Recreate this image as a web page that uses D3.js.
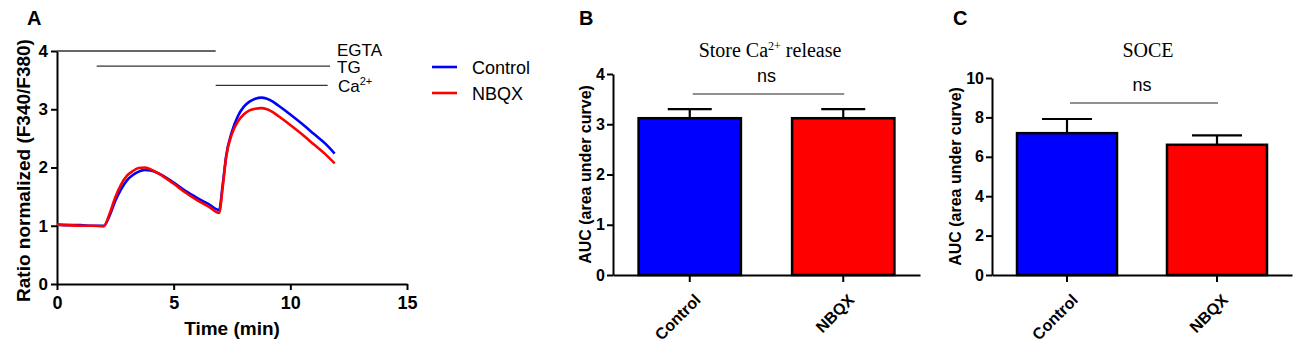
<!DOCTYPE html>
<html>
<head>
<meta charset="utf-8">
<script src="https://cdn.jsdelivr.net/npm/d3@7"></script>
<style>
  body { margin: 0; background: #fff; }
  svg { display: block; font-family: "Liberation Sans", Arial, sans-serif; }
  .axis path, .axis line { stroke: #000; stroke-width: 2px; }
  .axis text { font-weight: bold; fill: #000; }
</style>
</head>
<body>
<svg width="1300" height="349"></svg>
<script>
// ---- panel A: traces (time in min, ratio) ----
var time = [0, 0.5, 1, 1.5, 2, 2.25, 2.5, 2.75, 3, 3.25, 3.5, 3.75, 4, 4.5, 5, 5.5, 6, 6.5, 6.95,
            7.1, 7.25, 7.5, 7.75, 8, 8.25, 8.5, 8.75, 9, 9.25, 9.5, 10, 10.5, 11, 11.5, 11.9];
var controlTrace = [1.02, 1.01, 1.01, 1.0, 1.0, 1.17, 1.43, 1.63, 1.78, 1.87, 1.93, 1.96, 1.95, 1.87, 1.74, 1.6, 1.48, 1.37, 1.27,
            1.7, 2.2, 2.62, 2.88, 3.04, 3.13, 3.18, 3.2, 3.18, 3.13, 3.06, 2.91, 2.75, 2.58, 2.41, 2.24];
var nbqxTrace = [1.02, 1.01, 1.0, 1.0, 0.99, 1.2, 1.49, 1.71, 1.86, 1.94, 1.99, 2.0, 1.97, 1.86, 1.72, 1.57, 1.44, 1.33, 1.22,
            1.66, 2.18, 2.58, 2.79, 2.91, 2.98, 3.01, 3.02, 3.0, 2.95, 2.88, 2.73, 2.57, 2.4, 2.23, 2.07];
var xTicksA = [0, 5, 10, 15];
var yTicksA = [0, 1, 2, 3, 4];
// treatment bars: start, end, level
var treatNames = ["EGTA", "TG", "Ca"];
var treatStart = [0, 1.7, 6.8];
var treatEnd = [6.8, 11.7, 11.6];
var treatLevel = [4.0, 3.74, 3.41];

// ---- panels B and C: bars ----
var groups = ["Control", "NBQX"];
var storeMean = [3.12, 3.12];
var storeSem = [0.18, 0.18];
var soceMean = [7.2, 6.61];
var soceSem = [0.72, 0.48];
var yTicksB = [0, 1, 2, 3, 4];
var yTicksC = [0, 2, 4, 6, 8, 10];
var colors = ["#0000ff", "#ff0000"];

var svg = d3.select("svg");
var fmt = d3.format("d");

function panelLabel(txt, x) {
  svg.append("text").attr("x", x).attr("y", 25).text(txt)
    .style("font-size", "20px").style("font-weight", "bold");
}

// ================= panel A =================
var xA = d3.scaleLinear().domain([0, 15]).range([57, 407]);
var yA = d3.scaleLinear().domain([0, 4]).range([284, 51]);

panelLabel("A", 27);

svg.append("g").attr("class", "axis").attr("transform", "translate(0," + yA(0) + ")")
  .call(d3.axisBottom(xA).tickValues(xTicksA).tickFormat(fmt).tickSize(6).tickSizeOuter(0).tickPadding(6))
  .selectAll("text").style("font-size", "18px");
svg.append("g").attr("class", "axis").attr("transform", "translate(" + xA(0) + ",0)")
  .call(d3.axisLeft(yA).tickValues(yTicksA).tickFormat(fmt).tickSize(6).tickSizeOuter(0).tickPadding(3))
  .selectAll("text").style("font-size", "17px");

svg.append("text").attr("x", (xA(0) + xA(15)) / 2).attr("y", 335)
  .attr("text-anchor", "middle").style("font-size", "19px").style("font-weight", "bold")
  .text("Time (min)");
svg.append("text").attr("transform", "translate(30," + ((yA(0) + yA(4)) / 2 + 3) + ") rotate(-90)")
  .attr("text-anchor", "middle").style("font-size", "19px").style("font-weight", "bold")
  .text("Ratio normalized (F340/F380)");

// treatment lines
treatNames.forEach(function(n, i) {
  svg.append("line")
    .attr("x1", xA(treatStart[i])).attr("x2", xA(treatEnd[i]))
    .attr("y1", yA(treatLevel[i])).attr("y2", yA(treatLevel[i]))
    .attr("stroke", "#333").attr("stroke-width", 1.3);
});
svg.append("text").attr("x", 337).attr("y", 56).style("font-size", "17px").text("EGTA");
svg.append("text").attr("x", 337).attr("y", 73).style("font-size", "17px").text("TG");
var ca = svg.append("text").attr("x", 338).attr("y", 92).style("font-size", "17px");
ca.append("tspan").text("Ca");
ca.append("tspan").attr("dy", -7).style("font-size", "11px").text("2+");

var line = d3.line().x(function(d) { return xA(d[0]); }).y(function(d) { return yA(d[1]); })
  .curve(d3.curveMonotoneX);
svg.append("path").datum(time.map(function(t, i) { return [t, controlTrace[i]]; }))
  .attr("d", line).attr("fill", "none").attr("stroke", colors[0]).attr("stroke-width", 2.6);
svg.append("path").datum(time.map(function(t, i) { return [t, nbqxTrace[i]]; }))
  .attr("d", line).attr("fill", "none").attr("stroke", colors[1]).attr("stroke-width", 2.6);

// legend
groups.forEach(function(g, i) {
  var y = 67 + i * 26;
  svg.append("line").attr("x1", 432).attr("x2", 457).attr("y1", y).attr("y2", y)
    .attr("stroke", colors[i]).attr("stroke-width", 2.6);
  svg.append("text").attr("x", 472).attr("y", y + 6.5).style("font-size", "18px").text(g);
});

// ================= bar panels =================
function barPanel(opt) {
  var x = d3.scaleBand().domain(groups).range([opt.x0, opt.x1])
    .paddingInner(1 / 3).paddingOuter(1 / 6);
  var y = d3.scaleLinear().domain(opt.yDomain).range([275, opt.yTop]);

  panelLabel(opt.label, opt.labelX);

  var t = svg.append("text").attr("x", opt.titleX).attr("y", 57).attr("text-anchor", "middle")
    .style("font-family", "'Liberation Serif', 'Times New Roman', serif").style("font-size", "20px");
  opt.title.forEach(function(p) {
    var s = t.append("tspan").text(p.t);
    if (p.sup) s.attr("dy", -7).style("font-size", "12px");
    if (p.down) s.attr("dy", 7);
  });

  // error bars (upward)
  groups.forEach(function(g, i) {
    var cx = x(g) + x.bandwidth() / 2;
    svg.append("line").attr("x1", cx).attr("x2", cx)
      .attr("y1", y(opt.mean[i])).attr("y2", y(opt.mean[i] + opt.sem[i]))
      .attr("stroke", "#000").attr("stroke-width", 2.2);
    svg.append("line").attr("x1", cx - opt.cap / 2).attr("x2", cx + opt.cap / 2)
      .attr("y1", y(opt.mean[i] + opt.sem[i])).attr("y2", y(opt.mean[i] + opt.sem[i]))
      .attr("stroke", "#000").attr("stroke-width", 2.2);
  });

  svg.append("g").selectAll("rect").data(groups).enter().append("rect")
    .attr("x", function(d) { return x(d); })
    .attr("width", x.bandwidth())
    .attr("y", function(d, i) { return y(opt.mean[i]); })
    .attr("height", function(d, i) { return y(0) - y(opt.mean[i]); })
    .attr("fill", function(d, i) { return colors[i]; })
    .attr("stroke", "#000").attr("stroke-width", 2.5);

  var gx = svg.append("g").attr("class", "axis").attr("transform", "translate(0," + y(0) + ")")
    .call(d3.axisBottom(x).tickSize(7).tickSizeOuter(0));
  gx.selectAll("text").style("font-size", "16px")
    .attr("text-anchor", "end").attr("x", 0).attr("y", 0).attr("dy", "0.35em")
    .attr("transform", "translate(8,22) rotate(-45)");
  svg.append("g").attr("class", "axis").attr("transform", "translate(" + opt.x0 + ",0)")
    .call(d3.axisLeft(y).tickValues(opt.yTicks).tickFormat(fmt).tickSize(6).tickSizeOuter(0).tickPadding(2))
    .selectAll("text").style("font-size", "16px");

  svg.append("text").attr("transform", "translate(" + opt.yTitleX + "," + ((y(0) + opt.yTop) / 2) + ") rotate(-90)")
    .attr("text-anchor", "middle").style("font-size", "16px").style("font-weight", "bold")
    .text("AUC (area under curve)");

  // significance
  var c0 = x(groups[0]) + x.bandwidth() / 2, c1 = x(groups[1]) + x.bandwidth() / 2;
  svg.append("line").attr("x1", c0 + 3).attr("x2", c1 + 1).attr("y1", opt.nsY).attr("y2", opt.nsY)
    .attr("stroke", "#222").attr("stroke-width", 1.2);
  svg.append("text").attr("x", (c0 + c1) / 2).attr("y", opt.nsY - 12).attr("text-anchor", "middle")
    .style("font-size", "18px").text("ns");
}

barPanel({
  label: "B", labelX: 579, x0: 613, x1: 920, yDomain: [0, 4], yTop: 74, yTicks: yTicksB,
  mean: storeMean, sem: storeSem, cap: 44, nsY: 94, yTitleX: 591, titleX: 770,
  title: [{ t: "Store Ca" }, { t: "2+", sup: true }, { t: " release", down: true }]
});
barPanel({
  label: "C", labelX: 953, x0: 992, x1: 1292, yDomain: [0, 10], yTop: 78, yTicks: yTicksC,
  mean: soceMean, sem: soceSem, cap: 50, nsY: 103, yTitleX: 961, titleX: 1148,
  title: [{ t: "SOCE" }]
});
</script>
</body>
</html>
